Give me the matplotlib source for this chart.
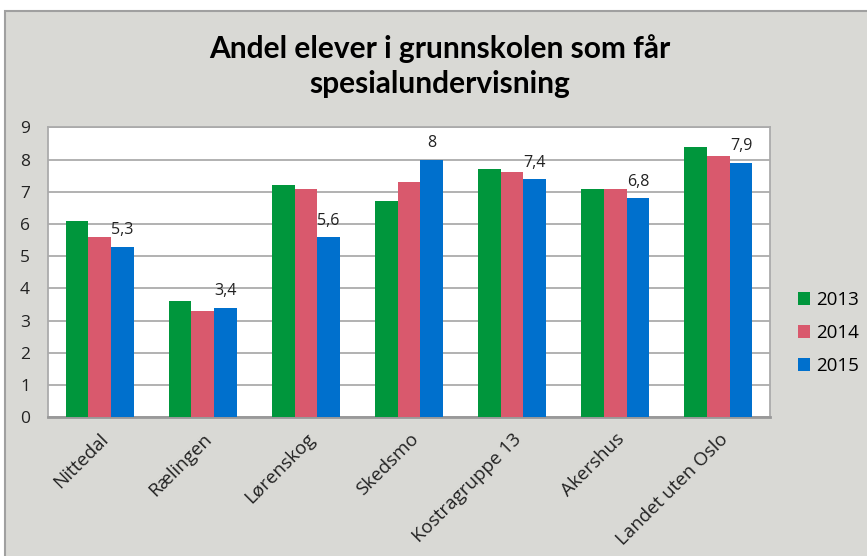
import matplotlib
matplotlib.use('Agg')
import matplotlib.pyplot as plt
from matplotlib.patches import Rectangle
import numpy as np

# Data
categories = ['Nittedal', 'Rælingen', 'Lørenskog', 'Skedsmo',
              'Kostragruppe 13', 'Akershus', 'Landet uten Oslo']
years = ['2013', '2014', '2015']
values_2013 = [6.1, 3.6, 7.2, 6.7, 7.7, 7.1, 8.4]
values_2014 = [5.6, 3.3, 7.1, 7.3, 7.6, 7.1, 8.1]
values_2015 = [5.3, 3.4, 5.6, 8.0, 7.4, 6.8, 7.9]
y_ticks = [0, 1, 2, 3, 4, 5, 6, 7, 8, 9]

colors = ['#00963c', '#d9596d', '#0070cd']
bg = '#d9d9d5'
grid_color = '#ababab'

plt.rcParams['font.family'] = ['Open Sans', 'DejaVu Sans']

fig = plt.figure(figsize=(8.67, 5.56), dpi=100, facecolor='white')

# Grey chart area with a frame, running off the right and bottom edge
fig.patches.append(Rectangle((5 / 867, -0.1), 1.2, 1 - 11 / 556 + 0.1,
                             transform=fig.transFigure, facecolor=bg,
                             edgecolor='#a0a0a0', linewidth=1.5, zorder=-10))

ax = fig.add_axes([48 / 867, 1 - 417.3 / 556, 722 / 867, 290 / 556])
ax.set_zorder(1)
ax.set_facecolor('white')

x = np.arange(len(categories))
width = 0.22
series = [values_2013, values_2014, values_2015]
for i, (vals, year, c) in enumerate(zip(series, years, colors)):
    bars = ax.bar(x + (i - 1) * width, vals, width, color=c, label=year, zorder=3)
    if year == '2015':
        # only the last year gets value labels, with decimal comma
        for b, v in zip(bars, vals):
            txt = f'{v:g}'.replace('.', ',')
            ax.annotate(txt, (b.get_x() + b.get_width() / 2, v),
                        xytext=(0, 6), textcoords='offset points',
                        ha='center', va='bottom', fontsize=11.5, color='#222222')

ax.set_xlim(-0.5, len(categories) - 0.5)
ax.set_ylim(0, 9)
ax.set_yticks(y_ticks)
ax.set_xticks(x)
ax.set_xticklabels(categories, rotation=45, ha='right', rotation_mode='anchor')
ax.tick_params(axis='both', length=0, labelsize=12.5, colors='#222222')
ax.tick_params(axis='y', pad=13)
ax.tick_params(axis='x', pad=9, labelsize=13.5)
ax.yaxis.grid(True, color=grid_color, linewidth=1.3, zorder=0)
ax.set_axisbelow(True)
for side in ['top', 'right', 'left']:
    ax.spines[side].set_color(grid_color)
    ax.spines[side].set_linewidth(1.3)
ax.spines['bottom'].set_color('#999999')
ax.spines['bottom'].set_linewidth(2)

fig.text(440 / 867, 1 - 66 / 556,
         'Andel elever i grunnskolen som får\nspesialundervisning',
         ha='center', va='center', fontsize=21.5, fontweight='bold',
         family=['Lato', 'DejaVu Sans'], linespacing=1.3, color='black')

leg = fig.legend(loc='center left', bbox_to_anchor=(798 / 867, 1 - 333 / 556),
                 frameon=False, fontsize=13.5, handlelength=0.65, handleheight=0.65,
                 handletextpad=0.3, labelspacing=0.8, borderpad=0, borderaxespad=0)

fig.savefig('out.png', dpi=100, facecolor='white')
